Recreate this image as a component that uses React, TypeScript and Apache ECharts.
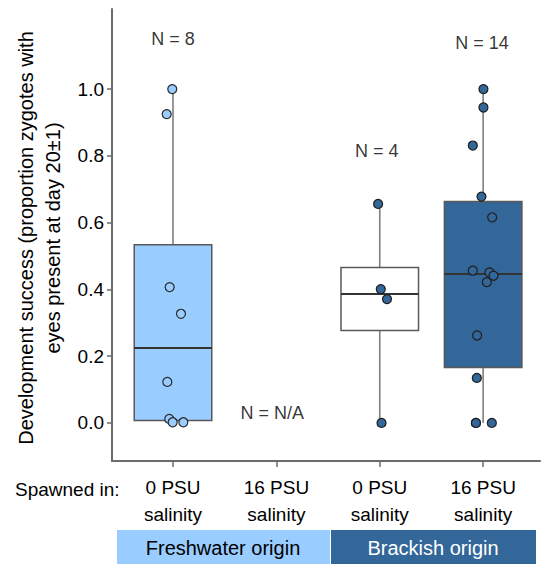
import React, { useEffect, useRef } from "react";
import * as echarts from "echarts";

// ---- data ----
const categories = ["0 PSU\nsalinity", "16 PSU\nsalinity", "0 PSU\nsalinity", "16 PSU\nsalinity"];
const originGroups = ["Freshwater origin", "Brackish origin"];
const yTicks = [0, 0.2, 0.4, 0.6, 0.8, 1.0];

// box statistics: [category position, min, Q1, median, Q3, max]
const boxFw0 = [1, 0, 0.007, 0.2245, 0.534, 1.0];
const boxBr0 = [3, 0, 0.277, 0.386, 0.466, 0.656];
const boxBr16 = [4, 0, 0.166, 0.446, 0.663, 1.0];

// raw points (proportion) and horizontal jitter (category units)
const fw0Values = [1.0, 0.925, 0.407, 0.327, 0.123, 0.012, 0.002, 0.002];
const fw0Jitter = [-0.007, -0.061, -0.032, 0.077, -0.055, -0.036, -0.003, 0.1];
const br0Values = [0.656, 0.401, 0.371, 0.0];
const br0Jitter = [-0.016, 0.01, 0.07, 0.017];
const br16Values = [1.0, 0.945, 0.831, 0.678, 0.616, 0.456, 0.451, 0.441, 0.422, 0.262, 0.135, 0.0, 0.0, 0.0];
const br16Jitter = [0.003, 0.003, -0.1, -0.016, 0.087, -0.1, 0.061, 0.1, 0.036, -0.058, -0.061, -0.07, 0.084, -0.07];

// sample size annotations: [position, y, text]
const nLabels: [number, number, string][] = [
  [1, 1.15, "N = 8"],
  [1.96, 0.031, "N = N/A"],
  [2.97, 0.815, "N = 4"],
  [3.99, 1.139, "N = 14"],
];

const LIGHT = "#99CCFF";
const DARK = "#336699";
const FONT = "Liberation Sans, Arial, sans-serif";

export default function App() {
  const ref = useRef<HTMLDivElement>(null);
  useEffect(() => {
    if (!ref.current) return;
    const chart = echarts.init(ref.current, null, { renderer: "svg" });
    const boxFills = [LIGHT, "#FFFFFF", DARK];
    const option: any = {
      animation: false,
      textStyle: { fontFamily: FONT },
      grid: { left: 112, top: 9, right: 1, bottom: 103, containLabel: false },
      xAxis: {
        type: "value",
        min: 0.41,
        max: 4.55,
        splitLine: { show: false },
        axisLine: { show: true, onZero: false, lineStyle: { color: "#6b6b6b", width: 2 } },
        axisTick: { show: true, length: 6, customValues: [1, 2, 3, 4], lineStyle: { color: "#6b6b6b", width: 1.5 } },
        axisLabel: {
          customValues: [1, 2, 3, 4],
          formatter: (v: number) => categories[Math.round(v) - 1],
          fontSize: 19,
          lineHeight: 27,
          color: "#000",
          margin: 13,
          fontFamily: FONT,
        },
      },
      yAxis: {
        type: "value",
        min: -0.114,
        max: 1.24,
        splitLine: { show: false },
        axisLine: { show: true, onZero: false, lineStyle: { color: "#6b6b6b", width: 2 } },
        axisTick: { show: true, length: 5, customValues: yTicks, lineStyle: { color: "#6b6b6b", width: 1.5 } },
        axisLabel: {
          customValues: yTicks,
          formatter: (v: number) => v.toFixed(1),
          fontSize: 19,
          color: "#000",
          margin: 8,
          fontFamily: FONT,
        },
      },
      series: [
        {
          type: "custom",
          data: [boxFw0, boxBr0, boxBr16],
          renderItem: (params: any, api: any) => {
            const x = api.value(0);
            const mn = api.coord([x, api.value(1)]);
            const q1 = api.coord([x, api.value(2)]);
            const md = api.coord([x, api.value(3)]);
            const q3 = api.coord([x, api.value(4)]);
            const mx = api.coord([x, api.value(5)]);
            const w = api.size([0.75, 0])[0];
            const cx = mn[0];
            return {
              type: "group",
              children: [
                { type: "line", shape: { x1: cx, y1: mn[1], x2: cx, y2: q1[1] }, style: { stroke: "#7f7f7f", lineWidth: 1.6 } },
                { type: "line", shape: { x1: cx, y1: q3[1], x2: cx, y2: mx[1] }, style: { stroke: "#7f7f7f", lineWidth: 1.6 } },
                {
                  type: "rect",
                  shape: { x: cx - w / 2, y: q3[1], width: w, height: q1[1] - q3[1] },
                  style: { fill: boxFills[params.dataIndex], stroke: "#595959", lineWidth: 1.5 },
                },
                { type: "line", shape: { x1: cx - w / 2, y1: md[1], x2: cx + w / 2, y2: md[1] }, style: { stroke: "#333", lineWidth: 2 } },
              ],
            };
          },
          z: 2,
        },
        {
          type: "scatter",
          data: fw0Values.map((v, i) => [1 + fw0Jitter[i], v]),
          symbolSize: 9,
          itemStyle: { color: LIGHT, borderColor: "#2b2b2b", borderWidth: 1.2, opacity: 1 },
          z: 3,
        },
        {
          type: "scatter",
          data: br0Values.map((v, i) => [3 + br0Jitter[i], v]),
          symbolSize: 9,
          itemStyle: { color: DARK, borderColor: "#1f1f1f", borderWidth: 1.2, opacity: 1 },
          z: 3,
        },
        {
          type: "scatter",
          data: br16Values.map((v, i) => [4 + br16Jitter[i], v]),
          symbolSize: 9,
          itemStyle: { color: DARK, borderColor: "#1f1f1f", borderWidth: 1.2, opacity: 1 },
          z: 3,
        },
        {
          type: "scatter",
          data: nLabels.map((d) => ({ value: [d[0], d[1]], name: d[2] })),
          symbolSize: 0,
          silent: true,
          label: {
            show: true,
            position: "inside",
            formatter: (p: any) => p.name,
            fontSize: 18,
            color: "#000",
            fontFamily: FONT,
          },
          z: 4,
        },
      ],
      graphic: [
        {
          type: "text",
          x: 39,
          y: 238,
          rotation: Math.PI / 2,
          style: {
            text: "Development success (proportion zygotes with\neyes present at day 20±1)",
            align: "center",
            verticalAlign: "middle",
            fontSize: 20,
            lineHeight: 27,
            fontFamily: FONT,
            fill: "#000",
          },
        },
        {
          type: "text",
          x: 15,
          y: 489,
          style: { text: "Spawned in:", align: "left", verticalAlign: "middle", fontSize: 19, fontFamily: FONT, fill: "#000" },
        },
        {
          type: "rect",
          shape: { x: 117, y: 530, width: 213, height: 34 },
          style: { fill: LIGHT },
        },
        {
          type: "rect",
          shape: { x: 331, y: 530, width: 205, height: 34 },
          style: { fill: DARK },
        },
        {
          type: "text",
          x: 223,
          y: 548,
          style: { text: originGroups[0], align: "center", verticalAlign: "middle", fontSize: 20, fontFamily: FONT, fill: "#000" },
        },
        {
          type: "text",
          x: 433,
          y: 548,
          style: { text: originGroups[1], align: "center", verticalAlign: "middle", fontSize: 20, fontFamily: FONT, fill: "#fff" },
        },
      ],
    };
    chart.setOption(option);
    return () => chart.dispose();
  }, []);
  return <div ref={ref} style={{ width: 541, height: 564, position: "absolute", left: 0, top: 0 }} />;
}
